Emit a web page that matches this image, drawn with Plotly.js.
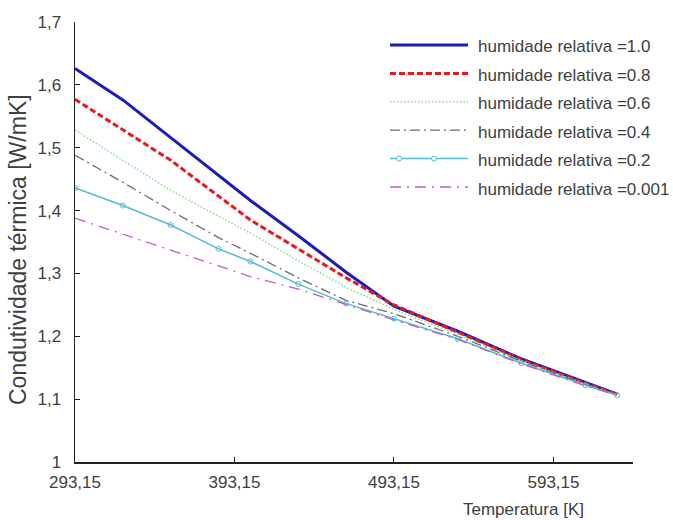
<!DOCTYPE html>
<html>
<head>
<meta charset="utf-8">
<script src="https://cdn.plot.ly/plotly-3.0.1.min.js"></script>
<style>html,body{margin:0;padding:0;background:#fff;}#chart{width:673px;height:520px;}</style>
</head>
<body>
<div id="chart"></div>
<script>
// Data
const temperatura = [293.15, 323.15, 353.15, 383.15, 403.15, 433.15, 463.15, 493.15, 533.15, 573.15, 613.15, 633.15];
const hr_1_0   = [1.626, 1.576, 1.516, 1.456, 1.416, 1.360, 1.302, 1.248, 1.208, 1.164, 1.126, 1.108];
const hr_0_8   = [1.577, 1.529, 1.480, 1.423, 1.385, 1.339, 1.293, 1.250, 1.206, 1.163, 1.125, 1.108];
const hr_0_6   = [1.528, 1.480, 1.432, 1.391, 1.364, 1.320, 1.278, 1.243, 1.203, 1.161, 1.124, 1.107];
const hr_0_4   = [1.488, 1.445, 1.400, 1.357, 1.332, 1.293, 1.257, 1.236, 1.200, 1.160, 1.123, 1.107];
const hr_0_2   = [1.436, 1.408, 1.377, 1.339, 1.319, 1.283, 1.252, 1.228, 1.196, 1.157, 1.122, 1.106];
const hr_0_001 = [1.388, 1.362, 1.337, 1.312, 1.295, 1.275, 1.250, 1.226, 1.195, 1.156, 1.121, 1.106];
const seriesNames = ['humidade relativa =1.0','humidade relativa =0.8','humidade relativa =0.6','humidade relativa =0.4','humidade relativa =0.2','humidade relativa =0.001'];
const xTickVals = [293.15, 393.15, 493.15, 593.15];
const xTickText = ['293,15', '393,15', '493,15', '593,15'];
const yTickVals = [1, 1.1, 1.2, 1.3, 1.4, 1.5, 1.6, 1.7];
const yTickText = ['1', '1,1', '1,2', '1,3', '1,4', '1,5', '1,6', '1,7'];

const values = [hr_1_0, hr_0_8, hr_0_6, hr_0_4, hr_0_2, hr_0_001];
const styles = [
  {line:{color:'#1c1cbc', width:3, dash:'solid'}, mode:'lines'},
  {line:{color:'#e8191e', width:3, dash:'6px,3px'}, mode:'lines'},
  {line:{color:'#86e086', width:1.5, dash:'1.5px,2px'}, mode:'lines'},
  {line:{color:'#6e6e6e', width:1.3, dash:'10px,4px,2px,4px'}, mode:'lines'},
  {line:{color:'#55bcd0', width:1.5, dash:'solid'}, mode:'lines+markers', marker:{symbol:'circle-open', size:5, color:'#55bcd0', line:{width:1}}},
  {line:{color:'#c060c8', width:1.3, dash:'11px,6px,2px,6px'}, mode:'lines'}
];
const traces = values.map((v, i) => Object.assign({
  type:'scatter', x: temperatura, y: v, name: seriesNames[i], showlegend:false
}, styles[i]));

const W = 673, H = 520, M = {l:75, r:40, t:22, b:58};
const pw = W - M.l - M.r, ph = H - M.t - M.b;
const px2x = p => (p - M.l) / pw;
const px2y = p => (H - M.b - p) / ph;

const font = {family:'"Liberation Sans", Arial, sans-serif', size:17, color:'#404040'};

// Hand-built legend (long line samples like the reference)
const shapes = [], annotations = [];
const legX0 = 390, legX1 = 468, legTextX = 476, legY0 = 45, legDy = 28.4;
seriesNames.forEach((name, i) => {
  const yy = legY0 + legDy * i;
  const st = styles[i];
  shapes.push({type:'line', xref:'paper', yref:'paper', x0:px2x(legX0), x1:px2x(legX1), y0:px2y(yy), y1:px2y(yy),
               line:{color:st.line.color, width:st.line.width, dash:st.line.dash}});
  if (st.marker) {
    [399, 434].forEach(cx => {
      shapes.push({type:'circle', xref:'paper', yref:'paper', xsizemode:'pixel', ysizemode:'pixel',
                   xanchor:px2x(cx), yanchor:px2y(yy), x0:-2.5, x1:2.5, y0:-2.5, y1:2.5,
                   line:{color:st.line.color, width:1}, fillcolor:'#fff'});
    });
  }
  annotations.push({text:name, xref:'paper', yref:'paper', x:px2x(legTextX), y:px2y(yy + 2),
                    xanchor:'left', yanchor:'middle', showarrow:false, font:font});
});
annotations.push({text:'Temperatura [K]', xref:'paper', yref:'paper', x:px2x(523), y:px2y(509), xanchor:'center', yanchor:'middle', showarrow:false, font:font});
annotations.push({text:'Condutividade térmica [W/mK]', xref:'paper', yref:'paper', x:px2x(18), y:px2y(250), xanchor:'center', yanchor:'middle', textangle:-90, showarrow:false, font:{family:font.family, size:23, color:'#404040'}});

const layout = {
  width:W, height:H,
  margin:M,
  paper_bgcolor:'#fff', plot_bgcolor:'#fff',
  font: font,
  showlegend:false,
  xaxis:{range:[293.15, 643], tickmode:'array', tickvals:xTickVals, ticktext:xTickText,
         ticks:'inside', ticklen:5, tickcolor:'#222', showline:true, linecolor:'#222', linewidth:1.5,
         showgrid:false, zeroline:false, ticklabelstandoff:4, tickfont:font},
  yaxis:{range:[1, 1.7], tickmode:'array', tickvals:yTickVals, ticktext:yTickText,
         ticks:'inside', ticklen:5, tickcolor:'#222', showline:true, linecolor:'#222', linewidth:1.5,
         showgrid:false, zeroline:false, ticklabelstandoff:9, tickfont:font},
  shapes: shapes,
  annotations: annotations
};
Plotly.newPlot('chart', traces, layout, {displayModeBar:false, staticPlot:true});
</script>
</body>
</html>
